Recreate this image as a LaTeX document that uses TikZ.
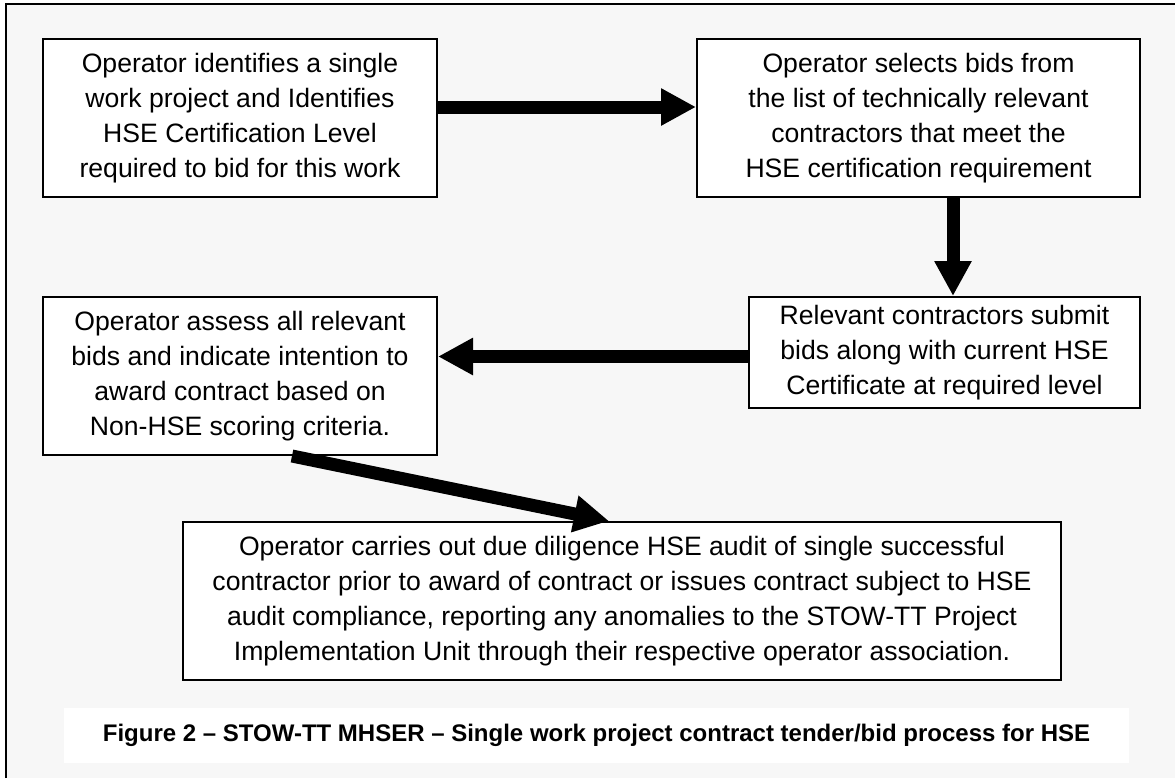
\documentclass[tikz,border=0pt]{standalone}
\usepackage{fontspec}
\setmainfont{Liberation Sans}
\usepackage{xcolor}
\definecolor{pagecol}{RGB}{247,247,247}
\usepackage{tikz}
\usetikzlibrary{arrows.meta, positioning, calc}

\tikzset{
  stepbox/.style={draw=black, line width=1pt, fill=white, align=center,
    inner sep=0pt, font=\fontsize{13.3}{17.5}\selectfont},
  bigarrow/.style={line width=6.5pt, -{Triangle[length=17.5pt, width=17.5pt]}}
}

\begin{document}
\begin{tikzpicture}[x=0.5pt, y=-0.5pt]

  % page area and frame
  \useasboundingbox (0,0) rectangle (1175,778);
  \fill[pagecol] (6,4) rectangle (1175,778);
  \draw[line width=1pt] (6,778) -- (6,4) -- (1175,4);

  % Process steps
  \node[stepbox, minimum width=197pt, minimum height=79pt] (B1) at (240,118)
    {Operator identifies a single\\ work project and Identifies\\
     HSE Certification Level\\ required to bid for this work};
  \node[stepbox, minimum width=221.5pt, minimum height=79pt] (B2) at (918.5,118)
    {Operator selects bids from\\ the list of technically relevant\\
     contractors that meet the\\ HSE certification requirement};
  \node[stepbox, minimum width=195.5pt, minimum height=55.5pt] (B3) at (944.5,352.5)
    {Relevant contractors submit\\ bids along with current HSE\\
     Certificate at required level};
  \node[stepbox, minimum width=197pt, minimum height=79pt] (B4) at (240,376)
    {Operator assess all relevant\\ bids and indicate intention to\\
     award contract based on\\ Non-HSE scoring criteria.};
  \node[stepbox, minimum width=439pt, minimum height=79pt] (B5) at (622,601)
    {Operator carries out due diligence HSE audit of single successful\\
     contractor prior to award of contract or issues contract subject to HSE\\
     audit compliance, reporting any anomalies to the STOW-TT Project\\
     Implementation Unit through their respective operator association.};

  % Caption
  \node[fill=white, minimum width=532.5pt, minimum height=27.5pt, inner sep=0pt,
        font=\fontsize{12}{14}\selectfont\bfseries] (cap) at (596.5,735.5)
    {Figure 2 -- STOW-TT MHSER -- Single work project contract tender/bid process for HSE};

  % Flow arrows
  \draw[bigarrow] ([yshift=5.5pt]B1.east) -- ([yshift=5.5pt]B1.east -| B2.west);
  \draw[bigarrow] ([xshift=4.25pt]B3.north |- B2.south) -- ([xshift=4.25pt]B3.north);
  \draw[bigarrow] ([yshift=-2pt]B3.west) -- ([yshift=-2pt]B3.west -| B4.east);
  \draw[bigarrow] ([xshift=26pt]B4.south) -- ([xshift=-6.5pt]B5.north);

\end{tikzpicture}
\end{document}
